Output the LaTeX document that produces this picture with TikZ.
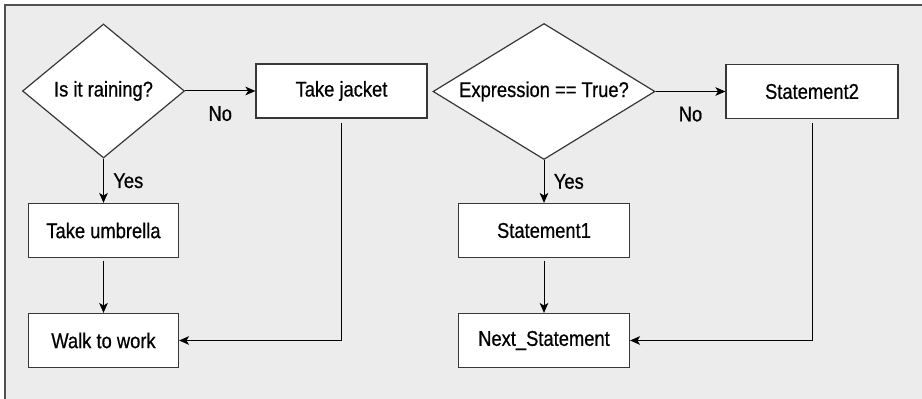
\documentclass[tikz,border=0pt]{standalone}
\usepackage{fontspec}
\setmainfont[FakeStretch=0.86,FakeBold=0.6]{Liberation Sans}
\usetikzlibrary{shapes.geometric,arrows.meta}

\definecolor{panelgray}{RGB}{236,236,236}
\definecolor{framegray}{RGB}{80,80,80}
\definecolor{edgegray}{RGB}{55,55,55}

\tikzset{stmt/.style = {shape=rectangle, draw=edgegray, line width=0.9pt, fill=white, minimum height=40.5pt, inner sep=0pt}}
\tikzset{cond/.style = {shape=diamond, draw=edgegray, line width=0.9pt, fill=white, inner sep=0pt}}
\tikzset{lbl/.style = {inner sep=0pt}}
\tikzset{flow/.style = {-{Stealth[length=7.5pt,width=6.5pt,inset=2pt]}, line width=0.75pt}}

\begin{document}
\begin{tikzpicture}[
			x=0.75pt, y=-0.75pt,
			font=\fontsize{16}{19}\selectfont
		]
		% Frame
		\useasboundingbox (0,0) rectangle (922,399);
		\fill[panelgray] (5,5) rectangle (922,399);
		\draw[framegray, line width=1pt] (5,399) -- (5,5) -- (922,5);
		% Nodes
		\node[cond, aspect=1.2, minimum width=121.5pt, minimum height=100.5pt] (rain) at (103.5,91) {Is it raining?};
		\node[stmt, minimum width=128.25pt] (jacket) at (341.5,91) {Take jacket};
		\node[stmt, minimum width=112.5pt] (umbrella) at (103.5,230.5) {Take umbrella};
		\node[stmt, minimum width=112.5pt] (walk) at (103.5,340.5) {Walk to work};
		\node[cond, aspect=1.63, minimum width=166.5pt, minimum height=102pt] (expr) at (544,91.5) {Expression == True?};
		\node[stmt, minimum width=129pt] (stmtb) at (812,91.5) {Statement2};
		\node[stmt, minimum width=128.25pt] (stmta) at (544,230.5) {Statement1};
		\node[stmt, minimum width=128.25pt] (next) at (544,340.5) {Next\_Statement};
		% Arrows
		\foreach \from/\to/\txt in {rain/umbrella/Yes, expr/stmta/Yes}
			\draw[flow] (\from) -- node[lbl, right=7pt] {\txt} (\to);
		\foreach \from/\to/\txt in {rain/jacket/No, expr/stmtb/No}
			\draw[flow] (\from) -- node[lbl, below=11pt] {\txt} (\to);
		\foreach \from/\to in {umbrella/walk, stmta/next}
			\draw[flow, shorten <=2pt] (\from) -- (\to);
		\foreach \from/\to in {jacket/walk, stmtb/next}
			\draw[flow, shorten <=3pt] (\from) |- (\to);
\end{tikzpicture}
\end{document}
